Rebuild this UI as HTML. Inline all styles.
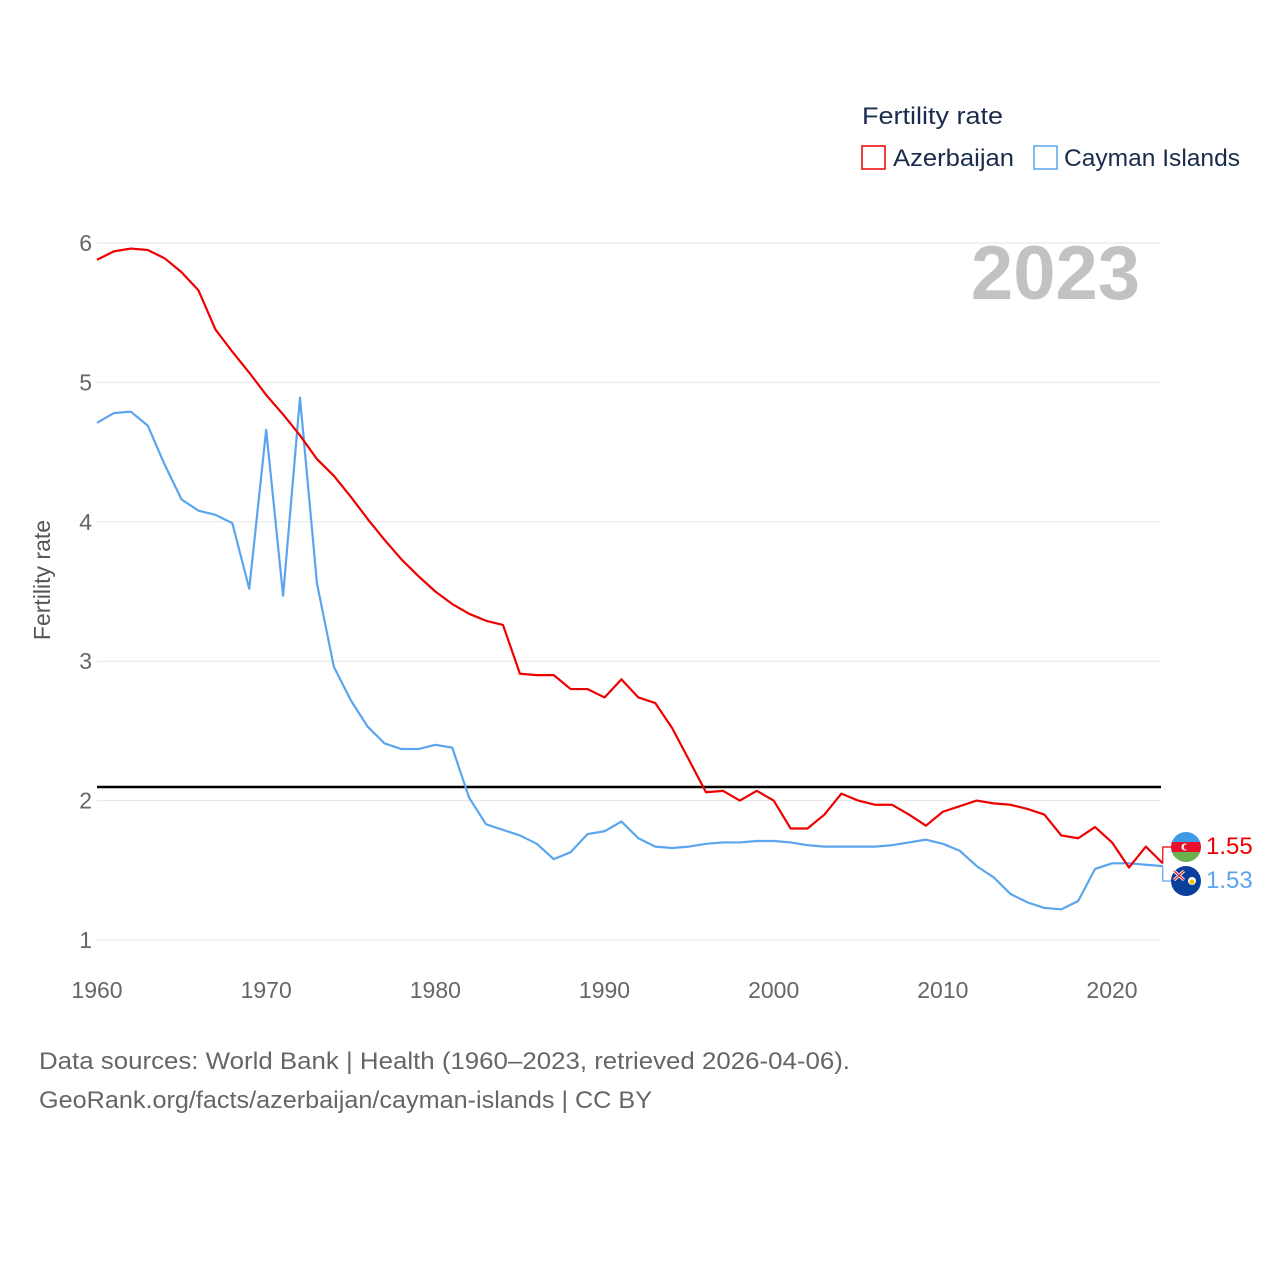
<!DOCTYPE html>
<html><head><meta charset="utf-8"><style>
body{margin:0;background:#fff;font-family:"Liberation Sans",sans-serif}
svg text{font-family:"Liberation Sans",sans-serif}
</style></head><body>
<svg id="chart" width="1280" height="1280" xmlns="http://www.w3.org/2000/svg">
<g id="grid"></g>
<text x="1140" y="299" text-anchor="end" font-size="76" font-weight="bold" fill="#c2c2c2">2023</text>
<text transform="translate(50,580) rotate(-90)" text-anchor="middle" font-size="23" fill="#555">Fertility rate</text>
<line x1="97" x2="1161" y1="787" y2="787" stroke="#000" stroke-width="2.5"/>
<g id="series"></g>
<text x="862" y="124" font-size="24" fill="#1a2b4c" textLength="141" lengthAdjust="spacingAndGlyphs">Fertility rate</text>
<g><rect x="862" y="146" width="23" height="23" fill="none" stroke="#e00" stroke-width="1.5"/><text x="893" y="166" font-size="24" fill="#1a2b4c" textLength="121" lengthAdjust="spacingAndGlyphs">Azerbaijan</text></g>
<g><rect x="1034" y="146" width="23" height="23" fill="none" stroke="#5aa5ee" stroke-width="1.5"/><text x="1064" y="166" font-size="24" fill="#1a2b4c" textLength="176" lengthAdjust="spacingAndGlyphs">Cayman Islands</text></g>
<text x="39" y="1069" font-size="24" fill="#666" textLength="811" lengthAdjust="spacingAndGlyphs">Data sources: World Bank | Health (1960–2023, retrieved 2026-04-06).</text>
<text x="39" y="1108" font-size="24" fill="#666" textLength="613" lengthAdjust="spacingAndGlyphs">GeoRank.org/facts/azerbaijan/cayman-islands | CC BY</text>
</svg>
<script>
const years=[];for(let y=1960;y<=2023;y++)years.push(y);
const azerbaijan=[5.88,5.94,5.96,5.95,5.89,5.79,5.66,5.38,5.22,5.07,4.91,4.77,4.62,4.45,4.33,4.18,4.02,3.87,3.73,3.61,3.50,3.41,3.34,3.29,3.26,2.91,2.90,2.90,2.80,2.80,2.74,2.87,2.74,2.70,2.52,2.29,2.06,2.07,2.00,2.07,2.00,1.80,1.80,1.90,2.05,2.00,1.97,1.97,1.90,1.82,1.92,1.96,2.00,1.98,1.97,1.94,1.90,1.75,1.73,1.81,1.70,1.52,1.67,1.55];
const cayman=[4.71,4.78,4.79,4.69,4.41,4.16,4.08,4.05,3.99,3.52,4.66,3.47,4.89,3.56,2.96,2.72,2.53,2.41,2.37,2.37,2.40,2.38,2.02,1.83,1.79,1.75,1.69,1.58,1.63,1.76,1.78,1.85,1.73,1.67,1.66,1.67,1.69,1.70,1.70,1.71,1.71,1.70,1.68,1.67,1.67,1.67,1.67,1.68,1.70,1.72,1.69,1.64,1.53,1.45,1.33,1.27,1.23,1.22,1.28,1.51,1.55,1.55,1.54,1.53];
const yTicks=[1,2,3,4,5,6];
const xTicks=[1960,1970,1980,1990,2000,2010,2020];
const NS="http://www.w3.org/2000/svg";
const xs=v=>97+(v-1960)*16.917;
const ys=v=>940-(v-1)*139.4;
const grid=document.getElementById('grid'),series=document.getElementById('series');
function mk(tag,attrs,parent){const e=document.createElementNS(NS,tag);for(const k in attrs)e.setAttribute(k,attrs[k]);parent.appendChild(e);return e;}
yTicks.forEach(t=>{
 const l=mk('line',{x1:97,x2:1161,y1:ys(t),y2:ys(t),stroke:'#e6e6e6','stroke-width':1},grid);
 
 
 const tx=mk('text',{x:92,y:ys(t)+8,'text-anchor':'end','font-size':23,fill:'#666'},grid);tx.textContent=t;
 
 
});
xTicks.forEach(t=>{
 const tx=mk('text',{x:xs(t),y:998,'text-anchor':'middle','font-size':23,fill:'#666'},grid);tx.textContent=t;
 
 
});
function line(vals,color,name){
 const p=mk('polyline',{points:vals.map((v,i)=>xs(years[i])+','+ys(v)).join(' '),fill:'none',stroke:color,'stroke-width':2.2,'stroke-linejoin':'round'},series);
 
 
}
line(cayman,'#5aa5ee','cayman-islands-line');
line(azerbaijan,'#e00','azerbaijan-line');
const lastA=azerbaijan[azerbaijan.length-1],lastC=cayman[cayman.length-1];
const ex=xs(2023);
const ca=mk('polyline',{points:`${ex},${ys(lastA)} ${ex},847 1172,847`,fill:'none',stroke:'#e00','stroke-width':1.2},series);


const cc=mk('polyline',{points:`${ex},${ys(lastC)} ${ex},881 1172,881`,fill:'none',stroke:'#5aa5ee','stroke-width':1.2},series);


const fa=mk('g',{},series);


mk('clipPath',{id:'ca'},fa).appendChild(document.createElementNS(NS,'circle'));
const c1=fa.querySelector('#ca circle');c1.setAttribute('cx',1186);c1.setAttribute('cy',847);c1.setAttribute('r',15);
mk('rect',{x:1171,y:832,width:30,height:10,fill:'#3f9be6','clip-path':'url(#ca)'},fa);
mk('rect',{x:1171,y:842,width:30,height:10,fill:'#e8112d','clip-path':'url(#ca)'},fa);
mk('rect',{x:1171,y:852,width:30,height:10,fill:'#6ab04c','clip-path':'url(#ca)'},fa);
mk('circle',{cx:1185,cy:847,r:3.5,fill:'#fff'},fa);mk('circle',{cx:1186.5,cy:847,r:2.8,fill:'#e8112d'},fa);
const fc=mk('g',{},series);


mk('circle',{cx:1186,cy:881,r:15,fill:'#0a3f9c'},fc);
mk('path',{d:'M1174,871 L1184,880 M1184,871 L1174,880',stroke:'#fff','stroke-width':3},fc);
mk('path',{d:'M1174,871 L1184,880 M1184,871 L1174,880',stroke:'#d22','stroke-width':1.2},fc);
mk('circle',{cx:1192,cy:881,r:4,fill:'#fff'},fc);mk('circle',{cx:1192,cy:882,r:2.5,fill:'#f2c200'},fc);
const la=mk('text',{x:1206,y:854,'font-size':24,fill:'#e00'},series);la.textContent=lastA.toFixed(2);


const lc=mk('text',{x:1206,y:888,'font-size':24,fill:'#5aa5ee'},series);lc.textContent=lastC.toFixed(2);


</script>
</body></html>
